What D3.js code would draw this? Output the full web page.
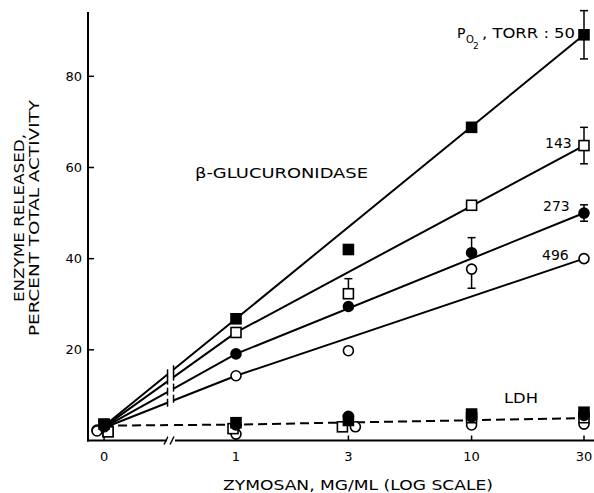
<!DOCTYPE html>
<html><head><meta charset="utf-8">
<script src="https://cdn.jsdelivr.net/npm/d3@7"></script>
<style>body{margin:0;background:#fff}svg{display:block}</style>
</head><body>
<script>
// ---------- DATA ----------
const doses = [0, 1, 3, 10, 30];              // zymosan, mg/ml
const xTickLabels = ["0", "1", "3", "10", "30"];
const yTicks = [20, 40, 60, 80];
const po2Labels = ["50", "143", "273", "496"];

// beta-glucuronidase release (% total activity) per PO2 series
const gluc50  = [3.6, 26.7, 41.9, 68.7, 89.0];
const gluc143 = [1.9, 23.7, 32.2, 51.6, 64.7];
const gluc273 = [3.0, 19.0, 29.4, 41.2, 49.9];
const gluc496 = [2.1, 14.2, 19.7, 37.6, 39.9];

// error bars [up, down] per dose (0 = none)
const err50  = [[0,0],[0,0],[0,0],[0,0],[5.3,5.3]];
const err143 = [[0,0],[0,0],[3.3,0],[0,0],[4.0,4.0]];
const err273 = [[0,0],[0,0],[0,0],[3.3,0],[1.8,1.8]];
const err496 = [[0,0],[0,0],[0,0],[0,4.2],[0,0]];

// fitted lines, values at doses below
const fitDoses = [0, 1, 30];
const fit50  = [3.2, 26.7, 89.0];
const fit143 = [3.0, 23.7, 64.7];
const fit273 = [2.9, 19.0, 49.9];
const fit496 = [2.8, 14.2, 39.9];

// LDH release
const ldh50  = [3.5, 3.9, 4.4, 5.8, 6.2];
const ldh143 = [2.0, 2.6, 3.0, 5.0, 5.0];
const ldh273 = [3.0, 3.4, 5.3, 5.2, 5.5];
const ldh496 = [2.3, 1.4, 3.0, 3.4, 3.6];
const ldhFit = [3.25, 3.5, 4.9];

// ---------- LAYOUT / STYLE ----------
const W = 594, H = 493;
const axisLeft = 88, axisBottom = 440.5, axisTop = 12, axisRight = 594;
const zeroDecades = 0.56;     // distance of the "0" position left of 1, in decades
const font = "'DejaVu Sans', sans-serif";

const svg = d3.select("body").append("svg").attr("width", W).attr("height", H);

const xLin = d3.scaleLinear().domain([0, Math.log10(30)]).range([236, 584]);
const x = v => v === 0 ? xLin(-zeroDecades) : xLin(Math.log10(v));
const breakX = xLin(-zeroDecades / 2);
const y = d3.scaleLinear().domain([0, 94]).range([axisBottom, axisTop]);

// ---------- AXES ----------
const ax = svg.append("g").attr("stroke", "#000").attr("stroke-width", 2).attr("fill", "none");
ax.append("line").attr("x1", axisLeft).attr("x2", axisLeft).attr("y1", axisTop).attr("y2", axisBottom + 1);
ax.append("line").attr("x1", axisLeft - 1).attr("x2", breakX - 3).attr("y1", axisBottom).attr("y2", axisBottom);
ax.append("line").attr("x1", breakX + 5).attr("x2", axisRight).attr("y1", axisBottom).attr("y2", axisBottom);
// axis break slashes
[-4, 2].forEach(o => ax.append("line").attr("stroke-width", 1.5)
  .attr("x1", breakX + o - 2).attr("x2", breakX + o + 2)
  .attr("y1", axisBottom + 4).attr("y2", axisBottom - 4));

// y ticks (inward)
const yAxis = d3.axisRight(y).tickValues(yTicks).tickSize(6).tickFormat("");
const gy = svg.append("g").attr("transform", `translate(${axisLeft},0)`).call(yAxis);
gy.select(".domain").remove();
gy.selectAll("line").attr("stroke-width", 1.5);
svg.selectAll(".ylab").data(yTicks).enter().append("text")
  .attr("x", axisLeft - 6).attr("y", d => y(d) + 5)
  .attr("text-anchor", "end").attr("font-family", font).attr("font-size", 13)
  .text(d => d);

// x ticks (inward)
svg.selectAll(".xt").data(doses).enter().append("line")
  .attr("x1", d => x(d)).attr("x2", d => x(d))
  .attr("y1", axisBottom).attr("y2", axisBottom - 5)
  .attr("stroke", "#000").attr("stroke-width", 1.5);
svg.selectAll(".xlab").data(doses).enter().append("text")
  .attr("x", d => x(d)).attr("y", 461)
  .attr("text-anchor", "middle").attr("font-family", font).attr("font-size", 13)
  .text((d, i) => xTickLabels[i]);

// axis titles
svg.append("text").attr("x", 223).attr("y", 490).attr("font-family", font).attr("font-size", 14)
  .attr("textLength", 270).attr("lengthAdjust", "spacingAndGlyphs")
  .text("ZYMOSAN, MG/ML (LOG SCALE)");
const yt = svg.append("g").attr("transform", "translate(0,218) rotate(-90)");
yt.append("text").attr("x", 0).attr("y", 24).attr("text-anchor", "middle")
  .attr("font-family", font).attr("font-size", 14)
  .attr("textLength", 168).attr("lengthAdjust", "spacingAndGlyphs").text("ENZYME RELEASED,");
yt.append("text").attr("x", 0).attr("y", 39).attr("text-anchor", "middle")
  .attr("font-family", font).attr("font-size", 14)
  .attr("textLength", 236).attr("lengthAdjust", "spacingAndGlyphs").text("PERCENT TOTAL ACTIVITY");

// ---------- LINES ----------
const gl = svg.append("g");
const lineGen = d3.line().x(d => x(d[0])).y(d => y(d[1]));
[fit50, fit143, fit273, fit496].forEach(f => {
  gl.append("path").attr("d", lineGen(fitDoses.map((d, i) => [d, f[i]])))
    .attr("fill", "none").attr("stroke", "#000").attr("stroke-width", 2);
});
gl.append("path").attr("d", lineGen(fitDoses.map((d, i) => [d, ldhFit[i]])))
  .attr("fill", "none").attr("stroke", "#000").attr("stroke-width", 2)
  .attr("stroke-dasharray", "9,5");

// break gap in lines
svg.append("rect").attr("x", breakX - 2).attr("y", y(30)).attr("width", 5)
  .attr("height", axisBottom - 3 - y(30)).attr("fill", "#fff");
const interpAtBreak = f => {
  const t = (breakX - x(0)) / (x(1) - x(0));
  return y(f[0] + t * (f[1] - f[0]));
};
[fit50, fit143, fit273, fit496].forEach(f => {
  const yy = interpAtBreak(f);
  [-2.5, 3.5].forEach(o => svg.append("line")
    .attr("x1", breakX + o).attr("x2", breakX + o)
    .attr("y1", yy - 5 + (o > 0 ? -2 : 2)).attr("y2", yy + 3 + (o > 0 ? -2 : 2))
    .attr("stroke", "#000").attr("stroke-width", 1.5));
});

// ---------- MARKERS ----------
const gm = svg.append("g");
function marker(g, type, cx, cy) {
  if (type === "fsq" || type === "osq") {
    g.append("rect").attr("x", cx - 5).attr("y", cy - 5).attr("width", 10).attr("height", 10)
      .attr("fill", type === "fsq" ? "#000" : "#fff").attr("stroke", "#000").attr("stroke-width", 1.6);
  } else {
    g.append("circle").attr("cx", cx).attr("cy", cy).attr("r", 5)
      .attr("fill", type === "fci" ? "#000" : "#fff").attr("stroke", "#000").attr("stroke-width", 1.6);
  }
}
function errBars(g, vals, errs) {
  doses.forEach((d, i) => {
    const [up, dn] = errs[i];
    [[up, 1], [dn, -1]].forEach(([e, s]) => {
      if (!e) return;
      const y0 = y(vals[i]), y1 = y(vals[i] + s * e);
      g.append("line").attr("x1", x(d)).attr("x2", x(d)).attr("y1", y0).attr("y2", y1)
        .attr("stroke", "#000").attr("stroke-width", 1.5);
      g.append("line").attr("x1", x(d) - 4).attr("x2", x(d) + 4).attr("y1", y1).attr("y2", y1)
        .attr("stroke", "#000").attr("stroke-width", 1.5);
    });
  });
}
errBars(gm, gluc50, err50);
errBars(gm, gluc143, err143);
errBars(gm, gluc273, err273);
errBars(gm, gluc496, err496);

// small horizontal offsets to separate overlapping markers (style)
const jitter = {
  osq: [4, -3, -6, 0, 0],
  oci: [-7, 0, 7, 0, 0],
  fci: [0, 0, 0, 0, 0],
  fsq: [0, 0, 0, 0, 0]
};
const series = [
  ["oci", gluc496, ldh496],
  ["osq", gluc143, ldh143],
  ["fci", gluc273, ldh273],
  ["fsq", gluc50, ldh50]
];
// LDH markers first (open behind filled)
series.forEach(([t, g, l]) => doses.forEach((d, i) => marker(gm, t, x(d) + jitter[t][i], y(l[i]))));
series.forEach(([t, g, l]) => doses.forEach((d, i) => marker(gm, t, x(d) + (i === 0 ? jitter[t][i] : 0), y(g[i]))));

// ---------- LABELS ----------
const lab = (tx, ty, s, len) => {
  const t = svg.append("text").attr("x", tx).attr("y", ty).attr("font-family", font).attr("font-size", 14).text(s);
  if (len) t.attr("textLength", len).attr("lengthAdjust", "spacingAndGlyphs");
  return t;
};
lab(457, 38, "P");
svg.append("text").attr("x", 466).attr("y", 43).attr("font-family", font).attr("font-size", 10).text("O");
svg.append("text").attr("x", 473).attr("y", 49).attr("font-family", font).attr("font-size", 9).text("2");
lab(482, 38, ", TORR : 50", 93);
lab(545, 148, po2Labels[1]);
lab(543, 211, po2Labels[2]);
lab(542, 260, po2Labels[3]);
lab(195, 178, "β-GLUCURONIDASE", 173);
lab(504, 403, "LDH", 34);
</script>
</body></html>
